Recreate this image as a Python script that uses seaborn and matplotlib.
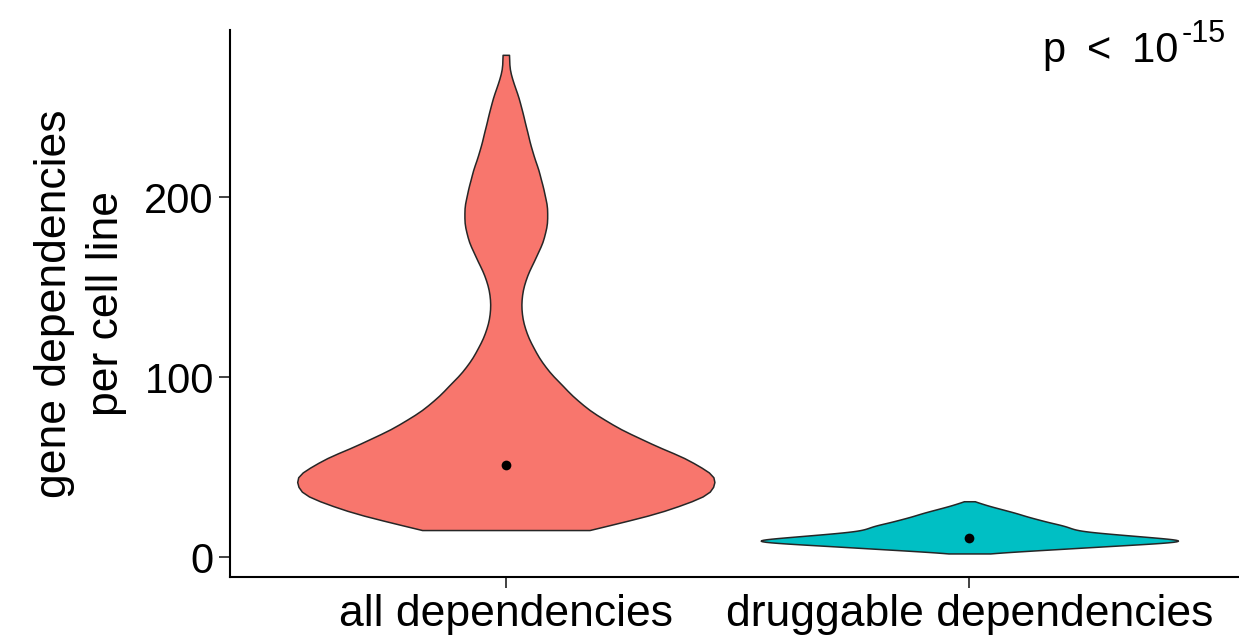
import matplotlib
matplotlib.use("Agg")
import matplotlib.pyplot as plt
import numpy as np
import pandas as pd
import seaborn as sns

CATEGORIES = ["all dependencies", "druggable dependencies"]
COLORS = ["#F8766D", "#00BFC4"]

# frequency tables (value, number of cell lines)
ALL_VALUES = [15, 25, 35, 45, 55, 65, 75, 85, 95, 105, 115, 125, 135, 145,
              155, 165, 175, 185, 195, 205, 215, 225, 235, 245, 255, 265, 279]
ALL_COUNTS = [39, 72, 95, 97, 82, 62, 46, 34, 26, 18, 13, 9, 7, 7,
              9, 13, 17, 19, 19, 17, 15, 12, 10, 8, 6, 3, 2]
DRUG_VALUES = [2, 3, 4, 5, 6, 7, 8, 9, 10, 11, 12, 13, 14, 15, 16,
               17, 18, 19, 20, 21, 22, 23, 24, 25, 26, 27, 28, 29, 30, 31]
DRUG_COUNTS = [6, 20, 33, 47, 60, 74, 88, 100, 90, 80, 71, 61, 52, 46, 45,
               43, 40, 36, 33, 30, 27, 24, 22, 19, 16, 13, 10, 7, 5, 2]
CENTER_VALUES = [51, 10.5]
BANDWIDTHS = [6.0, 1.0]
Y_TICKS = [0, 100, 200]

FONT = "Liberation Sans"
plt.rcParams["font.family"] = [FONT, "DejaVu Sans"]

fig = plt.figure(figsize=(12.39, 6.42), dpi=100)
ax = fig.add_axes([0.186, 0.1012, 0.8186, 0.8521])

groups = [
    (CATEGORIES[0], ALL_VALUES, ALL_COUNTS),
    (CATEGORIES[1], DRUG_VALUES, DRUG_COUNTS),
]
for (name, vals, counts), color, bw in zip(groups, COLORS, BANDWIDTHS):
    y = np.repeat(vals, counts).astype(float)
    df = pd.DataFrame({"group": name, "value": y})
    sns.violinplot(
        data=df, x="group", y="value", order=CATEGORIES, color=color,
        saturation=1, inner=None, cut=0, density_norm="width", width=0.9,
        bw_method=bw / np.std(y, ddof=1), linewidth=1.1, linecolor="#262626",
        ax=ax,
    )

sns.stripplot(x=CATEGORIES, y=CENTER_VALUES, order=CATEGORIES, color="black",
              jitter=False, size=7, ax=ax, zorder=5)

ax.set_xlim(-0.594, 1.594)
ax.set_ylim(-11.1, 292.8)
ax.set_yticks(Y_TICKS)
ax.set_xlabel("")
ax.set_ylabel("gene dependencies\nper cell line", fontsize=32,
              multialignment="center", linespacing=1.35)
ax.yaxis.set_label_coords(-0.102, 0.5)

for side in ["top", "right"]:
    ax.spines[side].set_visible(False)
for side in ["left", "bottom"]:
    ax.spines[side].set_linewidth(1.5)
    ax.spines[side].set_color("black")
ax.tick_params(axis="both", length=8, width=1.3, color="#333333",
               labelcolor="black", pad=4)
ax.tick_params(axis="y", labelsize=30)
ax.tick_params(axis="x", labelsize=32)

# p-value with a small raised exponent, spaced like R plotmath
ax.text(0.9345, 0.9415, "p\u2002<\u200210", transform=ax.transAxes,
        ha="right", va="baseline", fontsize=30)
ax.text(0.9374, 0.978, "-15", transform=ax.transAxes,
        ha="left", va="baseline", fontsize=22)

fig.savefig("out.png", dpi=100)
